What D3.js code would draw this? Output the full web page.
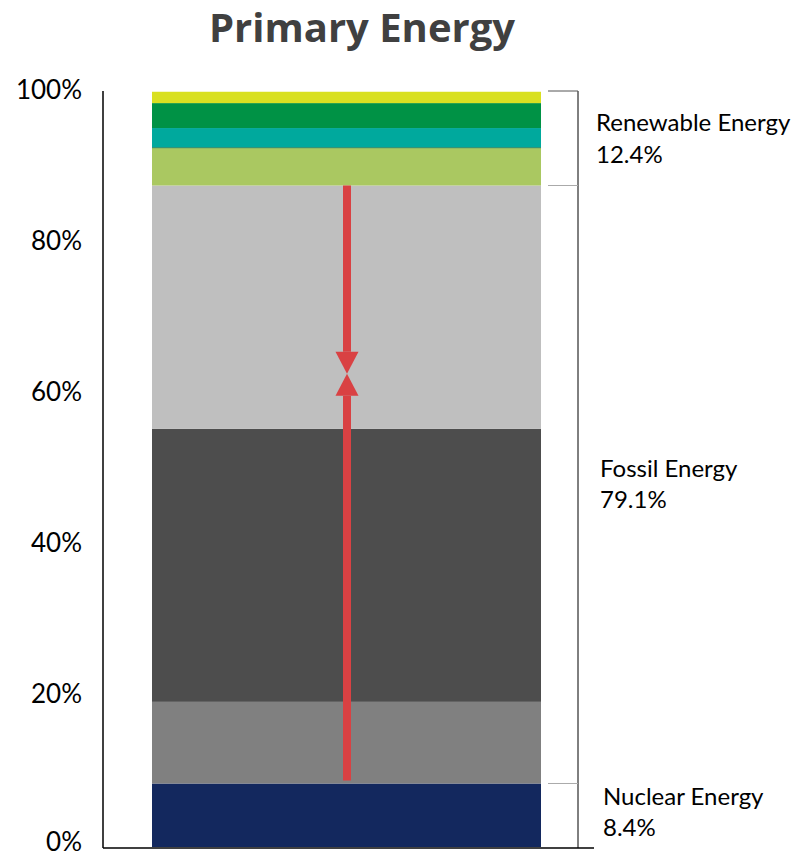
<!DOCTYPE html>
<html>
<head>
<meta charset="utf-8">
<script src="https://cdn.jsdelivr.net/npm/d3@7"></script>
<style>
  body { margin: 0; background: #fff; }
  svg { display: block; }
</style>
</head>
<body>
<div id="chart"></div>
<script>
// ---- data ----
const segments = ["Nuclear", "Fossil 1", "Fossil 2", "Fossil 3", "Renewable 1", "Renewable 2", "Renewable 3", "Renewable 4"];
const values = [8.4, 10.8, 36.1, 32.2, 5.0, 2.6, 3.3, 1.5];
const colors = ["#13285e", "#808080", "#4d4d4d", "#bfbfbf", "#aac861", "#00a99d", "#009245", "#d9e021"];
const groupNames = ["Renewable Energy", "Fossil Energy", "Nuclear Energy"];
const groupValues = ["12.4%", "79.1%", "8.4%"];
const tickValues = [0, 20, 40, 60, 80, 100];
const bracketTicks = [100, 87.5, 8.4];
const arrowFrom = [87.5, 8.8];
const arrowTo = 62.6;

// ---- layout ----
const W = 797, H = 858;
const svg = d3.select("#chart").append("svg").attr("width", W).attr("height", H);

const y = d3.scaleLinear().domain([0, 100]).range([847, 91]);
const barX0 = 152, barX1 = 541;

// title
svg.append("text")
  .attr("x", 362).attr("y", 42)
  .attr("text-anchor", "middle")
  .attr("font-family", "'Open Sans', sans-serif")
  .attr("font-weight", "bold")
  .attr("font-size", 40)
  .attr("fill", "#404040")
  .text("Primary Energy");

// stacked segments
let cum = 0;
const stack = values.map((v, i) => { const s = { name: segments[i], y0: cum, y1: cum + v, color: colors[i] }; cum += v; return s; });
svg.append("g").selectAll("rect").data(stack).join("rect")
  .attr("x", barX0)
  .attr("width", barX1 - barX0)
  .attr("y", d => y(Math.min(d.y1, 100)))
  .attr("height", d => y(d.y0) - y(Math.min(d.y1, 100)))
  .attr("fill", d => d.color);

// thin darker line between teal and light green
svg.append("line")
  .attr("x1", barX0).attr("x2", barX1)
  .attr("y1", y(stack[5].y0)).attr("y2", y(stack[5].y0))
  .attr("stroke", "#2f8a6a").attr("stroke-width", 1);

// y axis
const yAxis = d3.axisLeft(y).tickValues(tickValues).tickSize(0).tickFormat(d => d + "%");
const gy = svg.append("g").attr("transform", "translate(103,0)").call(yAxis);
gy.select(".domain").attr("stroke", "#000").attr("stroke-width", 1.5).attr("d", `M0,${y(100)}V${y(0) + 1}`);
gy.selectAll("text")
  .attr("x", -21)
  .attr("dy", d => d === 0 ? "0.12em" : "0.27em")
  .attr("font-family", "Lato, sans-serif")
  .attr("font-size", 26)
  .attr("fill", "#000");

// x baseline
svg.append("line")
  .attr("x1", 103).attr("x2", 594)
  .attr("y1", 848).attr("y2", 848)
  .attr("stroke", "#000").attr("stroke-width", 1.5);

// bracket vertical
svg.append("line")
  .attr("x1", 578).attr("x2", 578)
  .attr("y1", y(100)).attr("y2", 848)
  .attr("stroke", "#000").attr("stroke-width", 1);

// bracket ticks
svg.append("g").selectAll("line").data(bracketTicks).join("line")
  .attr("x1", 548).attr("x2", 578)
  .attr("y1", d => y(d)).attr("y2", d => y(d))
  .attr("stroke", (d, i) => i === 0 ? "#555" : "#aaa").attr("stroke-width", 1);

// group labels
const labelPos = [{ x: 596, y1: 131, y2: 163 }, { x: 600, y1: 477, y2: 508 }, { x: 603, y1: 805, y2: 836 }];
const lg = svg.append("g").attr("font-family", "Lato, sans-serif").attr("font-size", 24).attr("fill", "#000");
groupNames.forEach((n, i) => {
  lg.append("text").attr("x", labelPos[i].x).attr("y", labelPos[i].y1).text(n);
  lg.append("text").attr("x", labelPos[i].x).attr("y", labelPos[i].y2).text(groupValues[i]);
});

// red arrows
const ax = (barX0 + barX1) / 2 + 0.5;
const red = "#d94143";
const ag = svg.append("g");
arrowFrom.forEach(v => {
  const dir = v > arrowTo ? 1 : -1; // 1 = pointing down
  const tipY = y(arrowTo);
  const headLen = 22, headHalf = 11.5;
  const baseY = tipY - dir * headLen;
  ag.append("line")
    .attr("x1", ax).attr("x2", ax)
    .attr("y1", y(v)).attr("y2", baseY)
    .attr("stroke", red).attr("stroke-width", 8);
  ag.append("path")
    .attr("d", `M${ax - headHalf},${baseY}L${ax + headHalf},${baseY}L${ax},${tipY}Z`)
    .attr("fill", red);
});
</script>
</body>
</html>
